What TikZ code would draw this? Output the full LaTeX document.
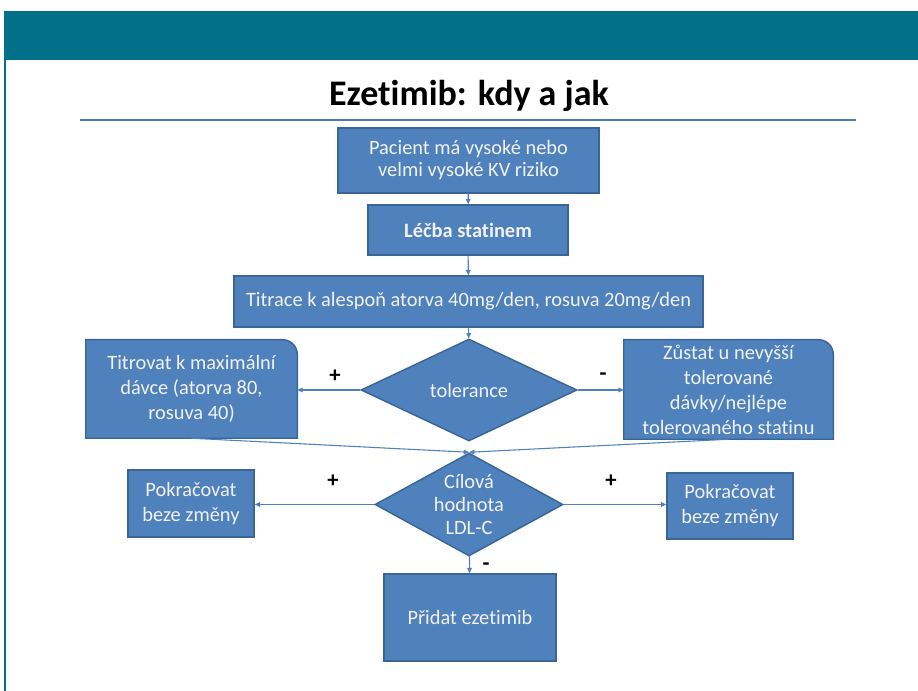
\documentclass[tikz,border=0pt]{standalone}
\usepackage{fontspec}
\setmainfont{Carlito}[Ligatures=NoCommon]
\usetikzlibrary{shapes.geometric,arrows.meta}
\definecolor{boxfill}{HTML}{4F81BD}
\definecolor{boxline}{HTML}{3A6597}
\definecolor{hdrteal}{HTML}{03708A}
\definecolor{tline}{HTML}{4A78B8}
\definecolor{btext}{HTML}{F2F2F2}
\begin{document}
\begin{tikzpicture}[x=0.75pt,y=-0.75pt,
  box/.style={rectangle, fill=boxfill, draw=boxline, line width=1.1pt, inner sep=0pt,
    text=btext, font=\fontsize{15.3}{18.75}\selectfont, align=center},
  shell/.style={rectangle, inner sep=0pt},
  btxt/.style={inner sep=0pt, text=btext, font=\fontsize{15.3}{18.75}\selectfont, align=center},
  dia/.style={diamond, fill=boxfill, draw=boxline, line width=1.1pt, inner sep=0pt},
  rshape/.style={fill=boxfill, draw=boxline, line width=1.1pt},
  conn/.style={draw=boxfill, line width=0.8pt, -{Triangle[length=4pt,width=3.5pt]}},
  sign/.style={inner sep=0pt, font=\bfseries\fontsize{17}{17}\selectfont, text=black}
]
\useasboundingbox (0,0) rectangle (918,691);
\fill[white] (0,0) rectangle (918,691);
% header
\fill[hdrteal] (5,11) rectangle (918,60);
\draw[hdrteal, line width=1pt] (5,11) -- (5,691);
% title
\node[inner sep=0pt, font=\bfseries\fontsize{27}{30}\selectfont] (title) at (469,96) {Ezetimib: kdy a jak};
\draw[tline, line width=2.2pt] (80,120) -- (856,120);

% boxes
\node[box, minimum width=195.75pt, minimum height=48.75pt, font=\fontsize{15.3}{16.5}\selectfont] (b1) at (468.5,160.5) {Pacient má vysoké nebo\\velmi vysoké KV riziko};
\node[box, minimum width=150pt, minimum height=37.5pt, font=\bfseries\fontsize{15.3}{16.5}\selectfont] (b2) at (468,230) {Léčba statinem};
\node[box, minimum width=351.75pt, minimum height=38.25pt] (b3) at (468.5,301.5) {Titrace k alespoň atorva 40mg/den, rosuva 20mg/den};

\node[dia, minimum width=162pt, minimum height=76.5pt] (tol) at (469,390) {};
\node[btxt] (tolt) at (tol) {tolerance};

% left rounded box
\node[shell, minimum width=158.25pt, minimum height=73.5pt] (L) at (191.5,389) {};
\path[rshape] (L.south west) -- (L.north west) -- ([xshift=-11pt]L.north east)
  arc[start angle=90, end angle=0, radius=11pt] -- (L.south east) -- cycle;
\node[btxt] (Lt) at (L) {Titrovat k maximální\\dávce (atorva 80,\\rosuva 40)};

% right rounded box
\node[shell, minimum width=156.75pt, minimum height=74.25pt] (R) at (728.5,389.5) {};
\path[rshape] (R.south west) -- (R.north west) -- ([xshift=-11pt]R.north east)
  arc[start angle=90, end angle=0, radius=11pt] -- (R.south east) -- cycle;
\node[btxt] (Rt) at (R) {Zůstat u nevyšší\\tolerované\\dávky/nejlépe\\tolerovaného statinu};

\node[dia, minimum width=141pt, minimum height=77.25pt] (cil) at (469,504.5) {};
\node[btxt, font=\fontsize{15.3}{17.6}\selectfont] (cilt) at (cil) {Cílová\\hodnota\\LDL-C};

\node[box, minimum width=94.5pt, minimum height=50.25pt] (p1) at (191,503.5) {Pokračovat\\beze změny};
\node[box, minimum width=94.5pt, minimum height=49.5pt] (p2) at (730,506) {Pokračovat\\beze změny};
\node[box, minimum width=129pt, minimum height=65.25pt] (pr) at (470,617.5) {Přidat ezetimib};

% connectors
\draw[conn] (b1) -- (b2);
\draw[conn] (b2) -- (b3);
\draw[conn] (b3) -- (tol);
\draw[conn] (tol.west) -- (tol.west -| L.east);
\draw[conn] (tol.east) -- (tol.east -| R.west);
\draw[conn] (L.south) -- (cil.north);
\draw[conn] (R.south) -- (cil.north);
\draw[conn] (cil.west) -- (cil.west -| p1.east);
\draw[conn] (cil.east) -- (cil.east -| p2.west);
\draw[conn] (cil) -- (pr);

% signs
\node[sign] (s1) at (335,376) {+};
\node[sign] (s2) at (603,377) {-};
\node[sign] (s3) at (333,481) {+};
\node[sign] (s4) at (611,481) {+};
\node[sign] (s5) at (486,567) {-};
\end{tikzpicture}
\end{document}
